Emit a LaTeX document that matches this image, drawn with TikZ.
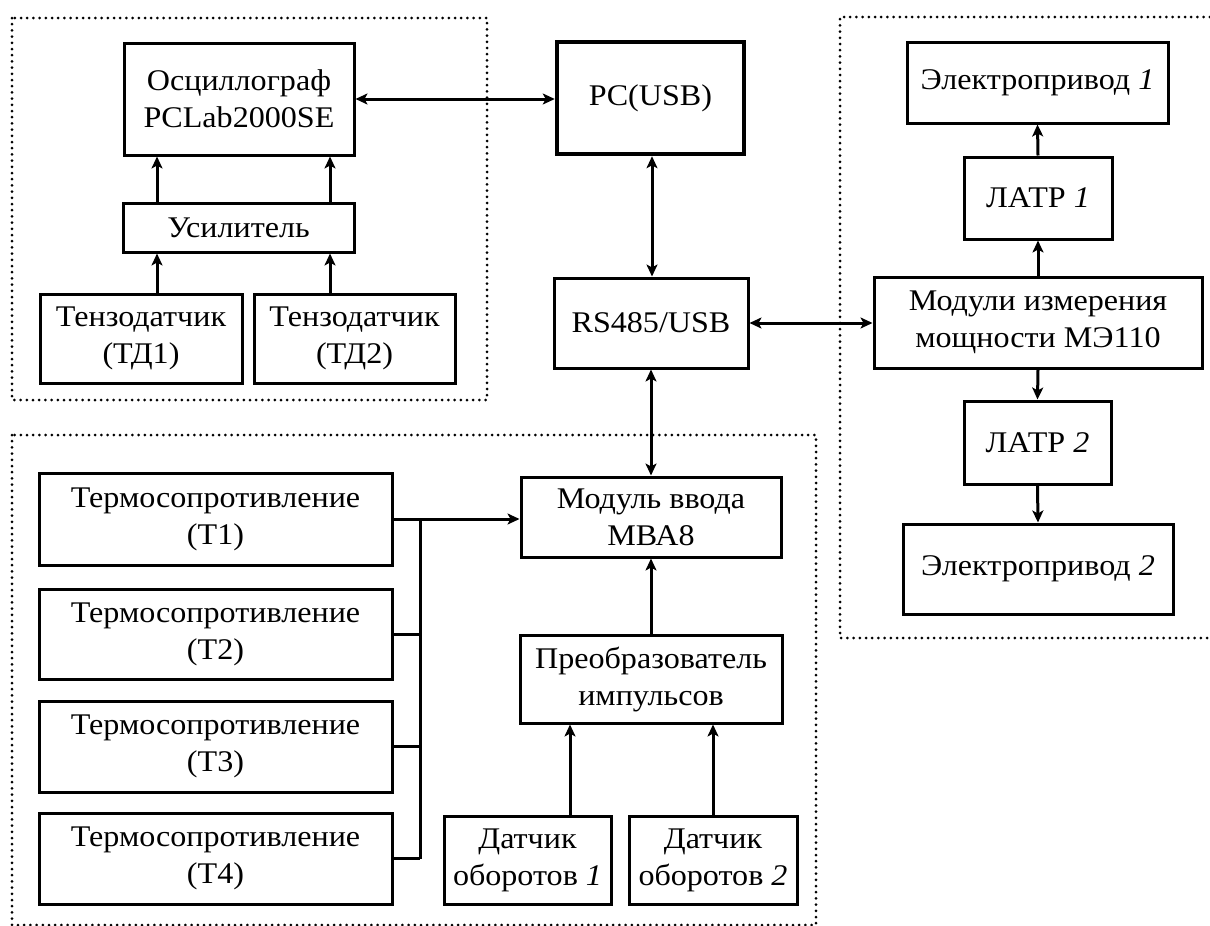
\documentclass[tikz,border=0pt]{standalone}
\usepackage{fontspec}
\setmainfont{Liberation Serif}[FakeStretch=1.07]
\usetikzlibrary{arrows.meta}
\begin{document}
\begin{tikzpicture}[x=1pt,y=-1pt,
  box/.style={draw, line width=3pt, inner sep=0pt, align=center, font=\fontsize{30}{37}\selectfont},
  tip/.tip={Stealth[length=12pt,width=11pt,inset=3pt]},
  arr/.style={line width=3pt, -tip},
  darr/.style={line width=3pt, tip-tip},
  wire/.style={line width=3pt},
  grp/.style={line width=3pt, dash pattern=on 0pt off 6.2pt, line cap=round}]
\useasboundingbox (0,0) rectangle (1210,926);
\fill[white] (0,0) rectangle (1210,926);

% group frames
\draw[grp] (12,18) rectangle (487,400);
\draw[grp] (1216,17) -- (840,17) -- (840,638) -- (1216,638);
\draw[grp] (12,435) rectangle (816,925);

% top-left group
\node[box, minimum width=230pt, minimum height=112pt] (osc) at (239,99) {Осциллограф\\PCLab2000SE};
\node[box, minimum width=231pt, minimum height=49pt] (usil) at (238.5,227.5) {Усилитель};
\node[box, minimum width=202pt, minimum height=89pt] (td1) at (141,338.5) {Тензодатчик\\(ТД1)};
\node[box, minimum width=201pt, minimum height=89pt] (td2) at (354.5,338.5) {Тензодатчик\\(ТД2)};

% centre column
\node[box, line width=4.5pt, minimum width=187pt, minimum height=112pt] (pc) at (650.5,98) {PC(USB)};
\node[box, minimum width=194pt, minimum height=90pt] (rs) at (651,323) {RS485/USB};

% right group
\node[box, minimum width=261pt, minimum height=81pt] (el1) at (1037.5,82.5) {Электропривод \textit{1}};
\node[box, minimum width=148pt, minimum height=82pt] (latr1) at (1038,198) {ЛАТР \textit{1}};
\node[box, minimum width=328pt, minimum height=91pt] (mod) at (1038,322.5) {Модули измерения\\мощности МЭ110};
\node[box, minimum width=147pt, minimum height=83pt] (latr2) at (1037.5,442.5) {ЛАТР \textit{2}};
\node[box, minimum width=270pt, minimum height=90pt] (el2) at (1038,569) {Электропривод \textit{2}};

% bottom group
\node[box, minimum width=353pt, minimum height=92pt] (t1) at (215.5,519) {Термосопротивление\\(Т1)};
\node[box, minimum width=353pt, minimum height=90pt] (t2) at (215.5,634) {Термосопротивление\\(Т2)};
\node[box, minimum width=353pt, minimum height=91pt] (t3) at (215.5,746.5) {Термосопротивление\\(Т3)};
\node[box, minimum width=353pt, minimum height=91pt] (t4) at (215.5,858.5) {Термосопротивление\\(Т4)};
\node[box, minimum width=260pt, minimum height=80pt] (mva) at (651,517) {Модуль ввода\\МВА8};
\node[box, minimum width=262pt, minimum height=88pt] (preo) at (651,679) {Преобразователь\\импульсов};
\node[box, minimum width=167pt, minimum height=88pt] (d1) at (527.5,860) {Датчик\\оборотов \textit{1}};
\node[box, minimum width=168pt, minimum height=88pt] (d2) at (713,860) {Датчик\\оборотов \textit{2}};

% helper coordinates
\coordinate (a1) at (157,0);
\coordinate (a2) at (330,0);
\coordinate (bus) at (420,0);
\coordinate (c1) at (570,0);
\coordinate (pcx) at (652,0);

% connectors
\draw[arr] (td1.north -| a1) -- (usil.south -| a1);
\draw[arr] (td2.north -| a2) -- (usil.south -| a2);
\draw[arr] (usil.north -| a1) -- (osc.south -| a1);
\draw[arr] (usil.north -| a2) -- (osc.south -| a2);
\draw[darr] (osc.east) -- (pc.west |- osc.east);
\draw[darr] (pc.south -| pcx) -- (rs.north -| pcx);
\draw[darr] (rs.east) -- (mod.west |- rs.east);
\draw[darr] (rs.south) -- (mva.north);
\draw[arr] (mod.north) -- (latr1.south);
\draw[arr] (latr1.north) -- (el1.south);
\draw[arr] (mod.south) -- (latr2.north);
\draw[arr] (latr2.south) -- (el2.north);
\draw[arr] (preo.north) -- (mva.south);
\draw[arr] (d1.north -| c1) -- (preo.south -| c1);
\draw[arr] (d2.north) -- (preo.south -| d2.north);
\draw[arr] (t1.east) -- (mva.west |- t1.east);
\draw[wire] (t1.east -| bus) -- (t4.east -| bus);
\draw[wire] (t2.east) -- (t2.east -| bus);
\draw[wire] (t3.east) -- (t3.east -| bus);
\draw[wire] (t4.east) -- (t4.east -| bus);
\end{tikzpicture}
\end{document}
